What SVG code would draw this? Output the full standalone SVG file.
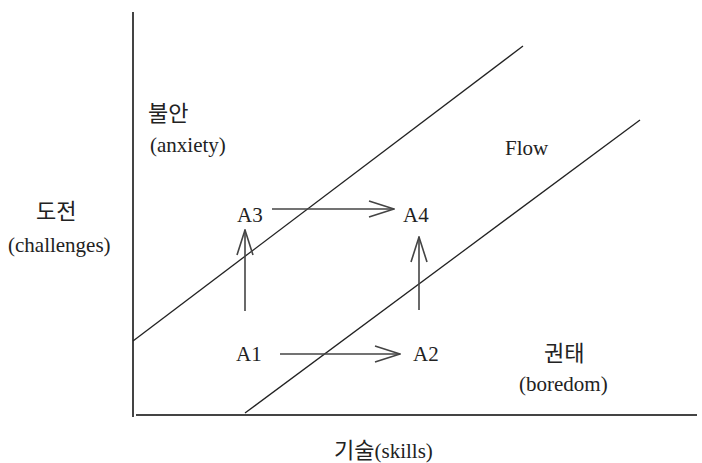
<svg xmlns="http://www.w3.org/2000/svg" width="702" height="463" viewBox="0 0 702 463">
<defs>
<style>
text{font-family:"Liberation Serif","Noto Sans CJK KR",serif;font-size:21px;fill:#222}
.ko{font-size:22px}
.ax{stroke:#444;stroke-width:2;fill:none}
.ln{stroke:#222;stroke-width:1.3;fill:none}
.ar{stroke:#444;stroke-width:1.6;fill:none}
</style>
<marker id="ah" viewBox="0 0 30 20" refX="29" refY="10" markerWidth="30" markerHeight="20" markerUnits="userSpaceOnUse" orient="auto">
<polyline points="4,2 29,10 4,18" fill="none" stroke="#444" stroke-width="1.6"/>
</marker>
</defs>
<rect width="702" height="463" fill="#fff"/>
<g id="axes">
<line class="ax" x1="133" y1="12" x2="133" y2="417"/>
<line class="ax" x1="136" y1="415" x2="697" y2="415"/>
</g>
<g id="boundaries">
<line class="ln" x1="133" y1="341" x2="523" y2="46"/>
<line class="ln" x1="245" y1="413" x2="640" y2="120"/>
</g>
<g id="connectors">
<line class="ar" x1="272" y1="209" x2="394" y2="209" marker-end="url(#ah)"/>
<line class="ar" x1="280" y1="354" x2="400" y2="354" marker-end="url(#ah)"/>
<line class="ar" x1="245" y1="311" x2="245" y2="230" marker-end="url(#ah)"/>
<line class="ar" x1="419" y1="310" x2="419" y2="237" marker-end="url(#ah)"/>
</g>
<g id="anxiety"><text class="ko" x="148" y="121">불안</text><text x="150" y="152">(anxiety)</text></g>
<g id="flow"><text x="505" y="155">Flow</text></g>
<g id="challenges"><text class="ko" x="36" y="219">도전</text><text x="8" y="252">(challenges)</text></g>
<g id="A3"><text x="237" y="222">A3</text></g>
<g id="A4"><text x="403" y="222">A4</text></g>
<g id="A1"><text x="236" y="361">A1</text></g>
<g id="A2"><text x="413" y="361">A2</text></g>
<g id="boredom"><text class="ko" x="544" y="361">권태</text><text x="519" y="391">(boredom)</text></g>
<g id="skills"><text x="334" y="458"><tspan class="ko">기술</tspan>(skills)</text></g>
</svg>
